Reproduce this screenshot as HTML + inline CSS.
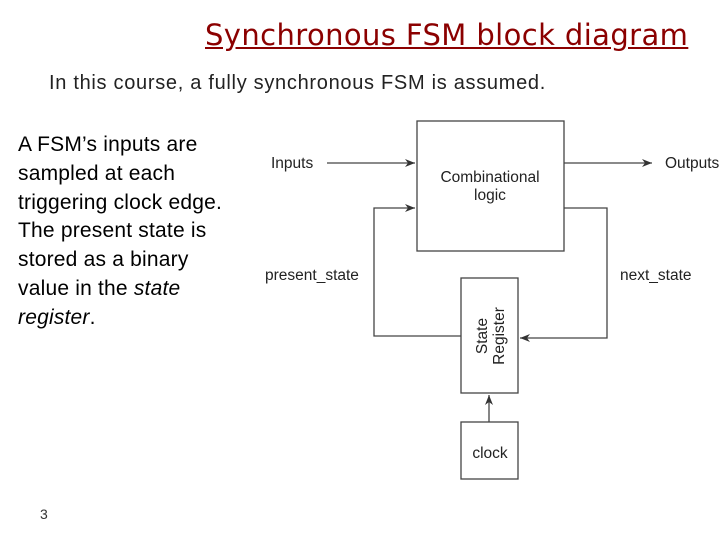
<!DOCTYPE html>
<html><head><style>
body{margin:0;width:720px;height:540px;background:#fff;position:relative;overflow:hidden;font-family:"Liberation Sans",sans-serif}
.t{position:absolute;white-space:nowrap}
</style></head><body>
<div class="t" style="left:205px;top:18px;font-size:29px;color:#8b0000;font-family:'DejaVu Sans',sans-serif;text-decoration:underline;letter-spacing:0.4px;">Synchronous FSM block diagram</div>
<div class="t" style="left:49px;top:72px;font-size:20px;color:#222;letter-spacing:0.7px;">In this course, a fully synchronous FSM is assumed.</div>
<div class="t" style="left:18px;top:131px;font-size:21px;line-height:28.8px;color:#000;letter-spacing:0.2px;">A FSM’s inputs are<br>sampled at each<br>triggering clock edge.<br>The present state is<br>stored as a binary<br>value in the <i>state</i><br><i>register</i>.</div>
<div class="t" style="left:40px;top:506px;font-size:14px;color:#333;">3</div>
<svg width="720" height="540" style="position:absolute;left:0;top:0" font-family="Liberation Sans, sans-serif" font-size="15.5" fill="#222">
<defs><marker id="a" markerWidth="10" markerHeight="8" refX="10" refY="4" orient="auto" markerUnits="userSpaceOnUse"><path d="M0,0 L10,4 L0,8 L3,4z" fill="#333"/></marker></defs>
<g stroke="#444" stroke-width="1.3" fill="none">
<rect x="417" y="121" width="147" height="130" fill="#fff"/>
<rect x="461" y="278" width="57" height="115" fill="#fff"/>
<rect x="461" y="422" width="57" height="57" fill="#fff"/>
<line x1="327" y1="163" x2="415" y2="163" marker-end="url(#a)"/>
<line x1="564" y1="163" x2="652" y2="163" marker-end="url(#a)"/>
<polyline points="461,336 374,336 374,208 415,208" marker-end="url(#a)"/>
<polyline points="564,208 607,208 607,338 520,338" marker-end="url(#a)"/>
<line x1="489" y1="422" x2="489" y2="395" marker-end="url(#a)"/>
</g>
<text x="271" y="168">Inputs</text>
<text x="665" y="168">Outputs</text>
<text x="490" y="182" text-anchor="middle">Combinational</text>
<text x="490" y="200" text-anchor="middle">logic</text>
<text x="265" y="280">present_state</text>
<text x="620" y="280">next_state</text>
<text x="490" y="458" text-anchor="middle">clock</text>
<text transform="translate(487,336) rotate(-90)" text-anchor="middle">State</text>
<text transform="translate(504,336) rotate(-90)" text-anchor="middle">Register</text>
</svg>
</body></html>
